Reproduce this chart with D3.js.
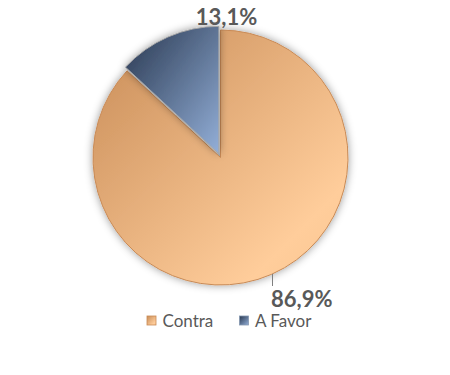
<!DOCTYPE html>
<html>
<head>
<meta charset="utf-8">
<script src="https://cdn.jsdelivr.net/npm/d3@7"></script>
<style>
  body { margin: 0; background: #fff; }
  svg { display: block; }
</style>
</head>
<body>
<svg id="chart"></svg>
<script>
// data
const categories = ['Contra', 'A Favor'];
const values = [86.9, 13.1];
const valueLabels = ['86,9%', '13,1%'];

const width = 450, height = 375;
const cx = 220.5, cy = 157.5, radius = 127.5;
const explode = [0, 4];
// label anchors relative to pie centre
const labelPos = [
  { dx: 50.5, dy: 149.5, anchor: 'start', leader: true },
  { dx: 6, dy: -132.5, anchor: 'middle', leader: false }
];
const gradColors = [
  { dark: '#C88C57', light: '#FFCD9B', stroke: '#C98A55' },
  { dark: '#28374F', light: '#93AFD8', stroke: '#A6A6A6' }
];
const textColor = '#595959';

const svg = d3.select('#chart').attr('width', width).attr('height', height);
const defs = svg.append('defs');

gradColors.forEach(function (c, i) {
  const g = defs.append('linearGradient')
    .attr('id', 'grad' + i)
    .attr('x1', 0).attr('y1', 0).attr('x2', 1).attr('y2', 1);
  g.append('stop').attr('offset', '0%').attr('stop-color', c.dark);
  g.append('stop').attr('offset', i === 0 ? '80%' : '100%').attr('stop-color', c.light);
  if (i === 0) g.append('stop').attr('offset', '100%').attr('stop-color', '#F9C590');
});

const shadow = defs.append('filter')
  .attr('id', 'shadow')
  .attr('x', '-20%').attr('y', '-20%').attr('width', '140%').attr('height', '140%');
shadow.append('feDropShadow')
  .attr('dx', 0).attr('dy', 0)
  .attr('stdDeviation', 4)
  .attr('flood-color', '#000')
  .attr('flood-opacity', 0.4);

const pie = d3.pie().sort(null).value(d => d);
const arcs = pie(values);
const arc = d3.arc().innerRadius(0).outerRadius(radius);

const g = svg.append('g').attr('transform', 'translate(' + cx + ',' + cy + ')');

g.selectAll('path.slice')
  .data(arcs)
  .enter()
  .append('path')
  .attr('class', 'slice')
  .attr('d', arc)
  .attr('fill', (d, i) => 'url(#grad' + i + ')')
  .attr('stroke', (d, i) => gradColors[i].stroke)
  .attr('stroke-width', 1)
  .attr('filter', 'url(#shadow)')
  .attr('transform', function (d, i) {
    const mid = (d.startAngle + d.endAngle) / 2;
    return 'translate(' + (Math.sin(mid) * explode[i]) + ',' + (-Math.cos(mid) * explode[i]) + ')';
  });

// leader line for the big slice
labelPos.forEach(function (p, i) {
  if (!p.leader) return;
  const x = p.dx + 1.5;
  const yEdge = Math.sqrt(radius * radius - x * x);
  g.append('line')
    .attr('x1', x).attr('x2', x)
    .attr('y1', yEdge).attr('y2', p.dy - 21)
    .attr('stroke', '#7F7F7F')
    .attr('stroke-width', 1);
});

g.selectAll('text.label')
  .data(arcs)
  .enter()
  .append('text')
  .attr('class', 'label')
  .attr('x', (d, i) => labelPos[i].dx)
  .attr('y', (d, i) => labelPos[i].dy)
  .attr('text-anchor', (d, i) => labelPos[i].anchor)
  .style('font-family', 'Lato, "Open Sans", sans-serif')
  .style('font-weight', 'bold')
  .style('font-size', '22px')
  .attr('fill', textColor)
  .text((d, i) => valueLabels[i]);

// legend
const legendX = [147, 239.5];
const legend = svg.append('g');
const item = legend.selectAll('g.item')
  .data(categories)
  .enter()
  .append('g')
  .attr('class', 'item')
  .attr('transform', (d, i) => 'translate(' + legendX[i] + ',316)');

item.append('rect')
  .attr('width', 9).attr('height', 9)
  .attr('fill', (d, i) => 'url(#grad' + i + ')')
  .attr('stroke', (d, i) => i === 0 ? '#C98A55' : '#8497B0')
  .attr('stroke-width', 0.8);

item.append('text')
  .attr('x', 15.5)
  .attr('y', 10.5)
  .style('font-family', 'Lato, "Open Sans", sans-serif')
  .style('font-size', '17px')
  .attr('fill', textColor)
  .text(d => d);
</script>
</body>
</html>
